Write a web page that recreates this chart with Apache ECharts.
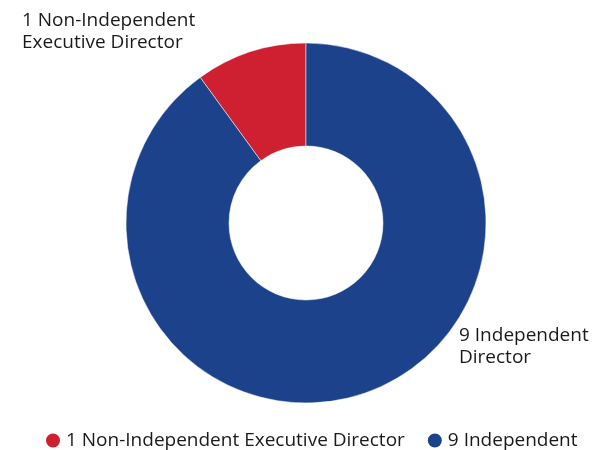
<!DOCTYPE html>
<html>
<head>
<meta charset="utf-8">
<script src="https://cdn.jsdelivr.net/npm/echarts@6/dist/echarts.min.js"></script>
<style>
  html, body { margin: 0; padding: 0; background: #fff; }
  #chart { width: 594px; height: 450px; }
</style>
</head>
<body>
<div id="chart"></div>
<script>
// directors by type
const names = ['1 Non-Independent Executive Director', '9 Independent'];
const labels = ['1 Non-Independent\nExecutive Director', '9 Independent\nDirector'];
const values = [1, 9];
const colors = ['#CE2030', '#1B428A'];

const chart = echarts.init(document.getElementById('chart'));

// where each slice label sits (left/top of the text block)
const labelPos = [
  { x: 22, y: 10 },
  { x: 459, y: 325 }
];

const option = {
  animation: false,
  color: colors,
  textStyle: { fontFamily: 'Open Sans' },
  legend: {
    top: 431,
    left: 44,
    icon: 'circle',
    itemWidth: 16,
    itemHeight: 16,
    itemGap: 21,
    padding: 0,
    textStyle: { fontSize: 19, color: '#1a1a1a', fontFamily: 'Open Sans' },
    data: names
  },
  series: [
    {
      type: 'pie',
      center: [306, 223],
      radius: [77, 180],
      clockwise: false,
      startAngle: 90,
      itemStyle: { borderColor: '#fff', borderWidth: 0.5 },
      label: {
        show: true,
        position: 'outside',
        color: '#1a1a1a',
        fontSize: 19,
        lineHeight: 22,
        fontFamily: 'Open Sans',
        formatter: (p) => labels[p.dataIndex]
      },
      labelLine: { show: false },
      labelLayout: (params) => ({
        x: labelPos[params.dataIndex].x,
        y: labelPos[params.dataIndex].y,
        align: 'left',
        verticalAlign: 'top'
      }),
      data: names.map((n, i) => ({ name: n, value: values[i] }))
    }
  ]
};

chart.setOption(option);
</script>
</body>
</html>
